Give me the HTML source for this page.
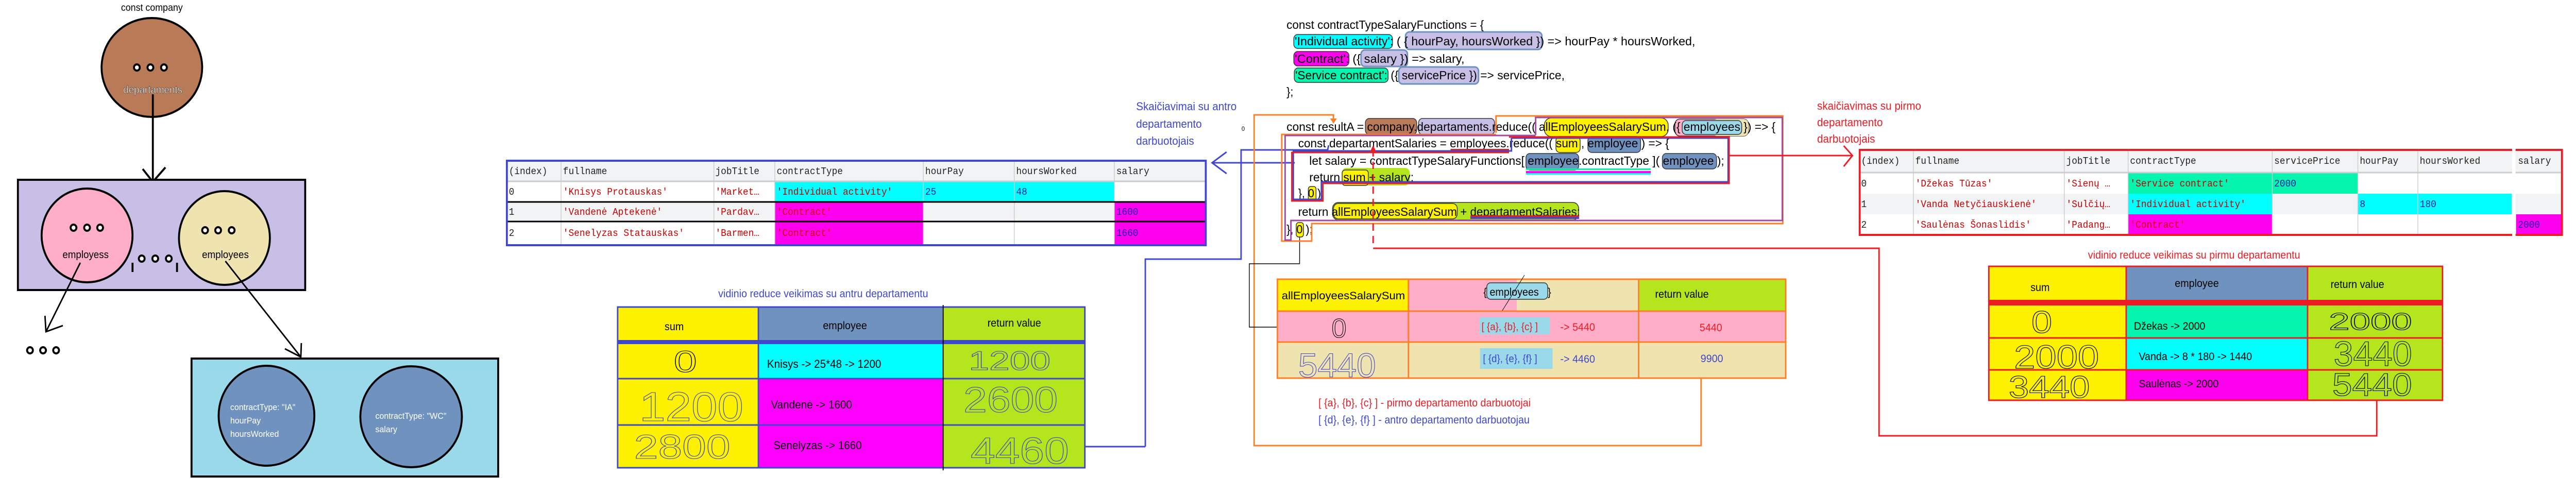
<!DOCTYPE html>
<html><head><meta charset="utf-8"><style>
html,body{margin:0;padding:0;background:#fff;overflow:hidden;width:100%;height:100%;}
svg{display:block;width:100vw;height:100vh}
.t{font-family:"Liberation Sans",sans-serif}
.m{font-family:"Liberation Mono",monospace;font-size:19px}
.s{fill:#c80000}.n{fill:#1a1aa6}.h{fill:#222}
</style></head><body>
<svg viewBox="0 0 5326 957" preserveAspectRatio="none" xmlns="http://www.w3.org/2000/svg" class="t">
<!-- LEFT DIAGRAM -->
<text x="314" y="21" font-size="19" text-anchor="middle">const company</text>
<ellipse cx="314" cy="131" rx="104" ry="96" fill="#b97a57" stroke="#000" stroke-width="4"/>
<g fill="#fff" stroke="#000" stroke-width="4"><circle cx="283" cy="131" r="6"/><circle cx="311" cy="131" r="6"/><circle cx="339" cy="131" r="6"/></g>
<text x="316" y="181" font-size="20" fill="#fff" text-anchor="middle" stroke="#000" stroke-width="0.4">departaments</text>
<line x1="316" y1="183" x2="316" y2="353" stroke="#000" stroke-width="4"/>
<polyline points="295,328 316,353 342,325" fill="none" stroke="#000" stroke-width="4"/>
<rect x="37" y="349" width="594" height="214" fill="#c8bfe7" stroke="#000" stroke-width="4"/>
<ellipse cx="180" cy="457" rx="94" ry="91" fill="#ffaec9" stroke="#000" stroke-width="4"/>
<ellipse cx="464" cy="462" rx="94" ry="91" fill="#efe4b0" stroke="#000" stroke-width="4"/>
<g fill="#fff" stroke="#000" stroke-width="4">
<circle cx="152" cy="442" r="6"/><circle cx="180" cy="442" r="6"/><circle cx="207" cy="442" r="6"/>
<circle cx="424" cy="447" r="6"/><circle cx="451" cy="447" r="6"/><circle cx="479" cy="447" r="6"/>
<circle cx="293" cy="502" r="6"/><circle cx="321" cy="502" r="6"/><circle cx="349" cy="502" r="6"/>
<circle cx="62" cy="680" r="6"/><circle cx="89" cy="680" r="6"/><circle cx="116" cy="680" r="6"/>
<circle cx="516" cy="759" r="6"/><circle cx="544" cy="759" r="6"/><circle cx="572" cy="759" r="6"/>
<circle cx="812" cy="757" r="6"/><circle cx="840" cy="757" r="6"/><circle cx="868" cy="757" r="6"/>
<circle cx="668" cy="853" r="6"/><circle cx="696" cy="853" r="6"/><circle cx="724" cy="853" r="6"/>
</g>
<g stroke="#000" stroke-width="4"><line x1="274" y1="510" x2="274" y2="528"/><line x1="366" y1="510" x2="366" y2="528"/><line x1="649" y1="862" x2="649" y2="882"/><line x1="745" y1="862" x2="745" y2="882"/></g>
<text x="177" y="501" font-size="20" text-anchor="middle">employess</text>
<text x="466" y="501" font-size="20" text-anchor="middle">employees</text>
<g stroke="#000" stroke-width="3" fill="none">
<line x1="166" y1="510" x2="95" y2="644"/><polyline points="93,613 95,644 130,632"/>
<line x1="466" y1="507" x2="622" y2="693"/><polyline points="589,677 622,693 623,666"/>
</g>
<rect x="396" y="696" width="634" height="229" fill="#99d9ea" stroke="#000" stroke-width="4"/>
<ellipse cx="551" cy="807" rx="99" ry="97" fill="#7092be" stroke="#000" stroke-width="4"/>
<ellipse cx="850" cy="809" rx="105" ry="98" fill="#7092be" stroke="#000" stroke-width="4"/>
<g fill="#fff" font-size="17"><text x="476" y="796">contractType: "IA"</text><text x="476" y="822">hourPay</text><text x="476" y="848">hoursWorked</text>
<text x="776" y="813">contractType: "WC"</text><text x="776" y="839">salary</text></g>

<!-- TABLE 1 (blue) -->
<text x="2349" y="214" font-size="22" fill="#3f48cc">Skaičiavimai su antro</text>
<text x="2349" y="248" font-size="22" fill="#3f48cc">departamento</text>
<text x="2349" y="281" font-size="22" fill="#3f48cc">darbuotojais</text>
<text x="2567" y="254" font-size="12">0</text>
<g>
<rect x="1048" y="312" width="1445" height="40" fill="#f2f3f5"/>
<rect x="1048" y="392" width="1445" height="38" fill="#f2f3f5"/>
<rect x="1602" y="352" width="702" height="40" fill="#00ffff"/>
<rect x="1602" y="392" width="307" height="84" fill="#ff00ee"/>
<rect x="2304" y="392" width="189" height="84" fill="#ff00ee"/>
<g stroke="#ccc" stroke-width="1.5"><line x1="1160" y1="312" x2="1160" y2="476"/><line x1="1476" y1="312" x2="1476" y2="476"/><line x1="1602" y1="312" x2="1602" y2="476"/><line x1="1909" y1="312" x2="1909" y2="476"/><line x1="2097" y1="312" x2="2097" y2="476"/><line x1="2304" y1="312" x2="2304" y2="476"/></g>
<line x1="1048" y1="352" x2="2493" y2="352" stroke="#ccc" stroke-width="3"/>
<line x1="1048" y1="392" x2="2493" y2="392" stroke="#000" stroke-width="3"/>
<line x1="1048" y1="430" x2="2493" y2="430" stroke="#000" stroke-width="3"/>
<rect x="1048" y="312" width="1445" height="164" fill="none" stroke="#3f48cc" stroke-width="4"/>
<g class="m h"><text x="1052" y="338">(index)</text><text x="1164" y="338">fullname</text><text x="1479" y="338">jobTitle</text><text x="1606" y="338">contractType</text><text x="1913" y="338">hourPay</text><text x="2101" y="338">hoursWorked</text><text x="2308" y="338">salary</text>
<text x="1052" y="378">0</text><text x="1052" y="417">1</text><text x="1052" y="458">2</text></g>
<g class="m s"><text x="1164" y="378">'Knisys Protauskas'</text><text x="1479" y="378">'Market…</text><text x="1606" y="378">'Individual activity'</text>
<text x="1164" y="417">'Vandenė Aptekenė'</text><text x="1479" y="417">'Pardav…</text><text x="1606" y="417">'Contract'</text>
<text x="1164" y="458">'Senelyzas Statauskas'</text><text x="1479" y="458">'Barmen…</text><text x="1606" y="458">'Contract'</text></g>
<g class="m n"><text x="1913" y="378">25</text><text x="2101" y="378">48</text><text x="2308" y="417">1600</text><text x="2308" y="458">1660</text></g>
</g>
<!-- blue connectors -->
<g stroke="#3f48cc" stroke-width="3" fill="none">
<polyline points="2536,295 2506,316 2536,337"/>
<line x1="2506" y1="316" x2="2677" y2="316"/>
<polyline points="2368,867 2368,503 2566,503 2566,291 2745,291 2747,282"/>
<line x1="2210" y1="867" x2="2368" y2="867"/>
</g>
<!-- orange connector -->
<g stroke="#ff7f27" stroke-width="3" fill="none">
<polyline points="3517,712 3517,865 2593,865 2593,223 2757,223 2757,234"/>
</g>
<polygon points="2750,230 2764,230 2757,240" fill="#ff7f27"/>
<!-- black connector -->
<polyline points="2687,457 2687,512 2583,512 2583,635 2726,635" fill="none" stroke="#000" stroke-width="1.5"/>
<polyline points="2716,625 2726,635 2716,646" fill="none" stroke="#000" stroke-width="1.5"/>

<!-- TABLE inner (antro) -->
<text x="1485" y="577" font-size="21" fill="#3f48cc">vidinio reduce veikimas su antru departamentu</text>
<rect x="1277" y="596" width="291" height="312" fill="#fff200"/>
<rect x="1568" y="596" width="381" height="64" fill="#7092be"/>
<rect x="1568" y="668" width="381" height="67" fill="#00ffff"/>
<rect x="1568" y="735" width="381" height="173" fill="#ff00ff"/>
<rect x="1949" y="596" width="294" height="312" fill="#b5e61d"/>
<rect x="1277" y="660" width="966" height="8" fill="#3f48cc"/>
<g stroke="#3f48cc" stroke-width="3"><line x1="1277" y1="735" x2="2243" y2="735"/><line x1="1277" y1="825" x2="2243" y2="825"/><line x1="1568" y1="596" x2="1568" y2="908"/></g>
<rect x="1277" y="596" width="966" height="312" fill="none" stroke="#3f48cc" stroke-width="3"/>
<line x1="1950" y1="592" x2="1950" y2="913" stroke="#000" stroke-width="2"/>
<g font-size="21"><text x="1394" y="641" text-anchor="middle">sum</text><text x="1747" y="639" text-anchor="middle">employee</text><text x="2097" y="634" text-anchor="middle">return value</text></g>
<g font-size="22"><text x="1586" y="714">Knisys -&gt; 25*48 -&gt; 1200</text><text x="1594" y="793">Vandenė -&gt; 1600</text><text x="1599" y="872">Senelyzas -&gt; 1660</text></g>
<g fill="none" stroke-width="1.1">
<text x="1393" y="722" font-size="58" textLength="48" lengthAdjust="spacingAndGlyphs" stroke="#000">0</text>
<text x="2003" y="718" font-size="52" textLength="169" lengthAdjust="spacingAndGlyphs" stroke="#3f48cc">1200</text>
<text x="1322" y="817" font-size="80" textLength="215" lengthAdjust="spacingAndGlyphs" stroke="#3f48cc">1200</text>
<text x="1992" y="800" font-size="70" textLength="195" lengthAdjust="spacingAndGlyphs" stroke="#3f48cc">2600</text>
<text x="1311" y="890" font-size="66" textLength="199" lengthAdjust="spacingAndGlyphs" stroke="#3f48cc">2800</text>
<text x="2007" y="900" font-size="72" textLength="203" lengthAdjust="spacingAndGlyphs" stroke="#3f48cc">4460</text>
</g>

<!-- CODE -->
<g font-size="23">
<text x="2660" y="56" textLength="408" lengthAdjust="spacingAndGlyphs">const contractTypeSalaryFunctions = {</text>
<rect x="2675" y="67" width="204" height="27" rx="8" fill="#00ffff" stroke="#333" stroke-width="1.5"/>
<rect x="2906" y="62" width="282" height="34" rx="8" fill="#c8bfe7" stroke="#7092be" stroke-width="3"/>
<text x="2677" y="88" textLength="828" lengthAdjust="spacingAndGlyphs">'Individual activity': ( { hourPay, hoursWorked }) =&gt; hourPay * hoursWorked,</text>
<rect x="2675" y="100" width="114" height="28" rx="8" fill="#ff00ee" stroke="#333" stroke-width="1.5"/>
<rect x="2814" y="97" width="96" height="32" rx="8" fill="#c8bfe7" stroke="#7092be" stroke-width="3"/>
<text x="2677" y="122" textLength="351" lengthAdjust="spacingAndGlyphs">'Contract': ({ salary }) =&gt; salary,</text>
<rect x="2676" y="132" width="194" height="28" rx="8" fill="#05f5ae" stroke="#333" stroke-width="1.5"/>
<rect x="2892" y="130" width="165" height="33" rx="8" fill="#c8bfe7" stroke="#7092be" stroke-width="3"/>
<text x="2678" y="154" textLength="557" lengthAdjust="spacingAndGlyphs">'Service contract': ({ servicePrice }) =&gt; servicePrice,</text>
<text x="2660" y="186">};</text>

<rect x="2823" y="230" width="106" height="31" rx="8" fill="#b97a57" stroke="#333" stroke-width="1.5"/>
<rect x="2933" y="230" width="157" height="31" rx="8" fill="#c8bfe7" stroke="#333" stroke-width="1.5"/>
<rect x="3193" y="229" width="256" height="36" rx="14" fill="#fff200" stroke="#333" stroke-width="1.5"/>
<rect x="3463" y="231" width="152" height="33" rx="10" fill="#ffaec9" stroke="#333" stroke-width="1.5"/>
<rect x="3540" y="231" width="75" height="33" rx="10" fill="#efe4b0"/>
<rect x="3478" y="234" width="123" height="27" rx="8" fill="#99d9ea" stroke="#333" stroke-width="1.5"/>
<text x="2660" y="254" textLength="1011" lengthAdjust="spacingAndGlyphs">const resultA = company.departaments.reduce(( allEmployeesSalarySum, ({ employees }) =&gt; {</text>

<rect x="3217" y="265" width="50" height="31" rx="8" fill="#fff200" stroke="#333" stroke-width="1.5"/>
<rect x="3283" y="265" width="109" height="31" rx="8" fill="#7092be" stroke="#333" stroke-width="1.5"/>
<text x="2684" y="286" textLength="767" lengthAdjust="spacingAndGlyphs">const departamentSalaries = employees.reduce(( sum , employee ) =&gt; {</text>

<rect x="3155" y="298" width="109" height="32" rx="8" fill="#7092be" stroke="#333" stroke-width="1.5"/>
<rect x="3437" y="298" width="112" height="30" rx="8" fill="#7092be" stroke="#333" stroke-width="1.5"/>
<rect x="3155" y="327" width="258" height="3" fill="#05f5ae"/><rect x="3155" y="332" width="258" height="4" fill="#ff00ee"/><rect x="3155" y="336" width="258" height="3" fill="#00ffff"/>
<text x="2707" y="320" textLength="858" lengthAdjust="spacingAndGlyphs">let salary = contractTypeSalaryFunctions[ employee.contractType ]( employee );</text>

<rect x="2774" y="326" width="141" height="34" rx="10" fill="#b5e61d"/>
<rect x="2775" y="330" width="54" height="30" rx="6" fill="#fff200" stroke="#333" stroke-width="1.5"/>
<text x="2707" y="352" textLength="216" lengthAdjust="spacingAndGlyphs">return sum + salary;</text>

<rect x="2705" y="362" width="16" height="28" rx="5" fill="#fff200" stroke="#333" stroke-width="1.5"/>
<text x="2684" y="383">}, 0 );</text>

<rect x="2755" y="393" width="509" height="34" rx="12" fill="#b5e61d" stroke="#333" stroke-width="1.5"/>
<rect x="2757" y="395" width="256" height="30" rx="10" fill="#fff200" stroke="#333" stroke-width="1.5"/>
<text x="2684" y="419" textLength="583" lengthAdjust="spacingAndGlyphs">return allEmployeesSalarySum + departamentSalaries;</text>
<rect x="3040" y="421" width="225" height="4" fill="#3f48cc"/><rect x="3040" y="418" width="225" height="3" fill="#ed1c24"/>
<rect x="2999" y="289" width="121" height="4" fill="#ed1c24"/><rect x="2999" y="293" width="121" height="3" fill="#3f48cc"/>

<rect x="2680" y="432" width="15" height="28" rx="5" fill="#fff200" stroke="#333" stroke-width="1.5"/>
<text x="2660" y="453">}, 0 );</text>
</g>
<!-- code boxes -->
<g fill="none" stroke-width="3">
<polyline stroke="#ff7f27" points="3093,258 3093,225 3686,225 3686,434 2712,434 2712,468 2650,468 2650,261 3093,261"/>
<polyline stroke="#a349a4" points="3175,262 3175,228 3685,228 3685,428 2669,428 2669,466 2657,466 2657,263 3175,263"/>
<polyline stroke="#3f48cc" points="3125,268 3573,268 3573,353 2732,353 2732,387 2674,387 2674,293 3125,293 3125,268"/>
<polyline stroke="#ed1c24" points="3120,266 3575,266 3575,356 2735,356 2735,390 2671,390 2671,296 3120,296"/>
</g>
<!-- red connectors -->
<g stroke="#ed1c24" stroke-width="3" fill="none">
<line x1="3575" y1="302" x2="3830" y2="302"/>
<polyline points="3812,283 3830,302 3812,323"/>
<line x1="2839" y1="290" x2="2839" y2="482" stroke-dasharray="14,10"/>
<polyline points="2839,482 3885,482 3885,846 4914,846 4914,766"/>
</g>
<polygon points="2833,294 2845,294 2839,282" fill="#ed1c24"/>

<!-- orange table -->
<rect x="2641" y="542" width="271" height="62" fill="#fff200"/>
<rect x="2912" y="542" width="224" height="62" fill="#ffaec9"/>
<rect x="3136" y="542" width="252" height="62" fill="#efe4b0"/>
<rect x="3388" y="542" width="304" height="62" fill="#b5e61d"/>
<rect x="2641" y="604" width="1051" height="60" fill="#ffaec9"/>
<rect x="2641" y="664" width="1051" height="70" fill="#efe4b0"/>
<rect x="3074" y="549" width="126" height="32" rx="8" fill="#99d9ea" stroke="#333" stroke-width="1.5"/>
<rect x="3059" y="616" width="145" height="33" fill="#99d9ea"/>
<rect x="3060" y="676" width="150" height="40" fill="#99d9ea"/>
<g stroke="#ff7f27" stroke-width="3" fill="none">
<rect x="2641" y="542" width="1051" height="192"/>
<line x1="2641" y1="604" x2="3692" y2="604"/><line x1="2641" y1="664" x2="3692" y2="664"/>
<line x1="2912" y1="542" x2="2912" y2="734"/><line x1="3388" y1="542" x2="3388" y2="734"/>
</g>
<line x1="3152" y1="534" x2="3106" y2="603" stroke="#000" stroke-width="1"/>
<text x="2650" y="581" font-size="21" textLength="255" lengthAdjust="spacingAndGlyphs">allEmployeesSalarySum</text>
<text x="3067" y="574" font-size="21">{</text><text x="3080" y="574" font-size="21">employees</text><text x="3200" y="574" font-size="21">}</text>
<text x="3422" y="578" font-size="21">return value</text>
<text x="3063" y="641" font-size="20" fill="#ed1c24">[ {a}, {b}, {c} ]</text>
<text x="3226" y="642" font-size="21" fill="#ed1c24">-&gt; 5440</text>
<text x="3514" y="643" font-size="21" fill="#ed1c24">5440</text>
<text x="3066" y="703" font-size="20" fill="#3f48cc">[ {d}, {e}, {f} ]</text>
<text x="3226" y="704" font-size="21" fill="#3f48cc">-&gt; 4460</text>
<text x="3516" y="703" font-size="21" fill="#3f48cc">9900</text>
<g fill="none" stroke-width="1.1">
<text x="2753" y="655" font-size="52" textLength="31" lengthAdjust="spacingAndGlyphs" stroke="#000">0</text>
<text x="2684" y="732" font-size="66" textLength="161" lengthAdjust="spacingAndGlyphs" stroke="#3f48cc">5440</text>
</g>
<text x="2726" y="789" font-size="21" fill="#ed1c24">[ {a}, {b}, {c} ] - pirmo departamento darbuotojai</text>
<text x="2726" y="822" font-size="21" fill="#3f48cc">[ {d}, {e}, {f} ] - antro departamento darbuotojau</text>

<!-- TABLE 2 (red) -->
<text x="3757" y="213" font-size="22" fill="#ed1c24">skaičiavimas su pirmo</text>
<text x="3757" y="245" font-size="22" fill="#ed1c24">departamento</text>
<text x="3757" y="277" font-size="22" fill="#ed1c24">darbuotojais</text>
<rect x="3845" y="291" width="1452" height="44" fill="#f2f3f5"/>
<rect x="3845" y="376" width="1452" height="40" fill="#f2f3f5"/>
<rect x="4400" y="335" width="475" height="41" fill="#05f5ae"/>
<rect x="4400" y="376" width="298" height="40" fill="#00ffff"/>
<rect x="4875" y="376" width="318" height="40" fill="#00ffff"/>
<rect x="4400" y="416" width="298" height="40" fill="#ff00ee"/>
<rect x="5202" y="416" width="95" height="40" fill="#ff00ee"/>
<g stroke="#ccc" stroke-width="1.5"><line x1="3956" y1="291" x2="3956" y2="456"/><line x1="4268" y1="291" x2="4268" y2="456"/><line x1="4400" y1="291" x2="4400" y2="456"/><line x1="4698" y1="291" x2="4698" y2="456"/><line x1="4875" y1="291" x2="4875" y2="456"/><line x1="4999" y1="291" x2="4999" y2="456"/></g>
<line x1="3845" y1="335" x2="5297" y2="335" stroke="#ccc" stroke-width="3"/>
<rect x="3845" y="291" width="1452" height="165" fill="none" stroke="#ed1c24" stroke-width="4"/>
<rect x="5194" y="288" width="7" height="171" fill="#fff"/>
<g class="m h"><text x="3848" y="318">(index)</text><text x="3960" y="318">fullname</text><text x="4272" y="318">jobTitle</text><text x="4404" y="318">contractType</text><text x="4702" y="318">servicePrice</text><text x="4879" y="318">hourPay</text><text x="5003" y="318">hoursWorked</text><text x="5206" y="318">salary</text>
<text x="3848" y="362">0</text><text x="3848" y="402">1</text><text x="3848" y="442">2</text></g>
<g class="m s"><text x="3960" y="362">'Džekas Tūzas'</text><text x="4272" y="362">'Sienų …</text><text x="4404" y="362">'Service contract'</text>
<text x="3960" y="402">'Vanda Netyčiauskienė'</text><text x="4272" y="402">'Sulčių…</text><text x="4404" y="402">'Individual activity'</text>
<text x="3960" y="442">'Saulėnas Šonaslidis'</text><text x="4272" y="442">'Padang…</text><text x="4404" y="442">'Contract'</text></g>
<g class="m n"><text x="4702" y="362">2000</text><text x="4879" y="402">8</text><text x="5003" y="402">180</text><text x="5206" y="442">2000</text></g>

<!-- red inner table -->
<text x="4317" y="502" font-size="21" fill="#ed1c24">vidinio reduce veikimas su pirmu departamentu</text>
<rect x="4112" y="517" width="284" height="260" fill="#fff200"/>
<rect x="4396" y="517" width="375" height="65" fill="#7092be"/>
<rect x="4396" y="593" width="375" height="63" fill="#05f5ae"/>
<rect x="4396" y="656" width="375" height="62" fill="#00ffff"/>
<rect x="4396" y="718" width="375" height="59" fill="#ff00ee"/>
<rect x="4771" y="517" width="279" height="260" fill="#b5e61d"/>
<rect x="4112" y="582" width="938" height="11" fill="#ed1c24"/>
<g stroke="#ed1c24" stroke-width="3" fill="none"><rect x="4112" y="517" width="938" height="260"/><line x1="4112" y1="656" x2="5050" y2="656"/><line x1="4112" y1="718" x2="5050" y2="718"/><line x1="4396" y1="517" x2="4396" y2="777"/><line x1="4771" y1="517" x2="4771" y2="777"/></g>
<g font-size="21"><text x="4218" y="565" text-anchor="middle">sum</text><text x="4542" y="557" text-anchor="middle">employee</text><text x="4874" y="559" text-anchor="middle">return value</text>
<text x="4412" y="640">Džekas -&gt;  2000</text><text x="4422" y="699">Vanda -&gt;  8 * 180 -&gt; 1440</text><text x="4422" y="752">Saulėnas -&gt;  2000</text></g>
<g fill="none" stroke-width="1.1" stroke="#000">
<text x="4200" y="646" font-size="60" textLength="43" lengthAdjust="spacingAndGlyphs">0</text>
<text x="4815" y="640" font-size="46" textLength="172" lengthAdjust="spacingAndGlyphs">2000</text>
<text x="4164" y="715" font-size="64" textLength="176" lengthAdjust="spacingAndGlyphs">2000</text>
<text x="4825" y="710" font-size="68" textLength="162" lengthAdjust="spacingAndGlyphs">3440</text>
<text x="4153" y="772" font-size="60" textLength="168" lengthAdjust="spacingAndGlyphs">3440</text>
<text x="4822" y="768" font-size="62" textLength="165" lengthAdjust="spacingAndGlyphs">5440</text>
</g>
</svg>
</body></html>
